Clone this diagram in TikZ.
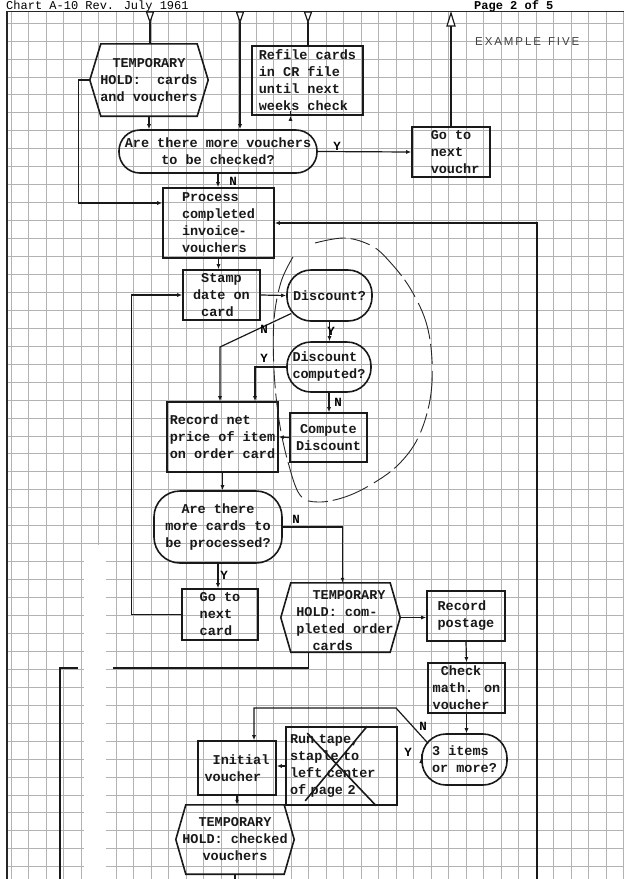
\documentclass[tikz,border=0pt]{standalone}
\usepackage{fontspec}
\setmainfont{Liberation Sans}
\newfontfamily\tw{Liberation Mono}
\usetikzlibrary{arrows.meta,calc}
\tikzset{
  gridln/.style={black!30, line width=0.6pt},
  txt/.style={font=\tw\bfseries\fontsize{13.5}{17}\selectfont, text=black!90},
  lbl/.style={font=\tw\bfseries\fontsize{12.5}{14}\selectfont, inner sep=0pt},
  box/.style={txt, draw=black!90, line width=1.6pt, rectangle, inner sep=0pt, align=left},
  term/.style={box, rounded corners=#1},
  hexa/.style={txt, draw=none, rectangle, inner sep=0pt, align=center},
  hexline/.style={draw=black!90, line width=1.6pt, line join=miter},
  conn/.style={draw=black!90, line width=1.2pt},
  arr/.style={conn, -{Latex[length=5pt,width=4pt]}},
  offpage/.style={draw=black!90, line width=1.2pt, fill=white, line join=miter},
  lasso/.style={draw=black!85, line width=0.9pt, dash pattern=on 38pt off 7pt on 20pt off 5pt}
}
\newcommand\hexshape[2]{%
  \draw[hexline] (#1.west) -- ($(#1.north west)+(#2,0)$) -- ($(#1.north east)+(-#2,0)$)
    -- (#1.east) -- ($(#1.south east)+(-#2,0)$) -- ($(#1.south west)+(#2,0)$) -- cycle;}
\begin{document}
\begin{tikzpicture}[x=1pt,y=-1pt]
\useasboundingbox (0,0) rectangle (624,879);
\fill[white] (0,0) rectangle (624,879);
% grid
\foreach \i in {0,...,35} {\draw[gridln] ({10.8+17.5*\i},11) -- ({10.8+17.5*\i},879);}
\foreach \k in {1,...,48} {\draw[gridln] (7,{5+17.95*\k}) -- (624,{5+17.95*\k});}
\fill[white] (84,545) rectangle (106,879);
% frame and header
\draw[black!85, line width=1.2pt] (7,11) -- (7,879);
\draw[black!85, line width=1pt] (7,11) -- (624,11);
\node[anchor=base west, inner sep=0pt, font=\tw\fontsize{12}{14}\selectfont] (hdr) at (6,9.5) {Chart A-10 Rev. July 1961};
\node[anchor=base west, inner sep=0pt, font=\tw\bfseries\fontsize{12}{14}\selectfont] (pg) at (474,9.5) {Page 2 of 5};
\node[anchor=west, inner sep=0pt, font=\fontsize{11.5}{13}\selectfont, text=black!75] (ex) at (475,42) {E\,X\,A\,M\,P\,L\,E\,\ \,F\,I\,V\,E};

% nodes
\node[hexa, minimum width=118pt, minimum height=72pt] (hold1) at (149,80) {TEMPORARY\\HOLD:\ \ cards\\and vouchers};
\hexshape{hold1}{11}
\node[box, minimum width=111pt, minimum height=69pt] (refile) at (307.5,80.5) {Refile cards\\in CR file\\until next\\weeks check};
\node[term=21pt, minimum width=198pt, minimum height=43pt, align=center] (q1) at (218,151.5) {Are there more vouchers\\to be checked?};
\node[box, minimum width=78pt, minimum height=50pt] (gonextv) at (451,152) {\phantom{x}Go to\\\phantom{x}next\\\phantom{x}vouchr};
\node[box, minimum width=111pt, minimum height=70pt] (process) at (218.5,223) {Process\\completed\\invoice-\\vouchers};
\node[box, minimum width=77pt, minimum height=50pt] (stamp) at (221.5,295) {\phantom{x}Stamp\\date on\\\phantom{x}card};
\node[term=24pt, minimum width=85pt, minimum height=51pt, align=center] (disc) at (329.5,295.5) {Discount?};
\node[term=24pt, minimum width=84pt, minimum height=50pt] (disccomp) at (329,367) {Discount\\computed?};
\node[box, minimum width=111pt, minimum height=70pt] (record) at (222.5,437) {Record net\\price of item\\on order card};
\node[box, minimum width=77pt, minimum height=49pt, align=center] (compute) at (328.5,437.5) {Compute\\Discount};
\node[term=26pt, minimum width=128pt, minimum height=72pt, align=center] (q2) at (218,527) {Are there\\more cards to\\be processed?};
\node[box, minimum width=76pt, minimum height=51pt] (gonextc) at (220,614.5) {Go to\\next\\card};
\node[hexa, minimum width=119pt, minimum height=69pt] (hold2) at (340.5,617.5) {};
\hexshape{hold2}{10}
\node[txt, align=left, inner sep=0pt] (hold2t) at (345,621) {\phantom{xx}TEMPORARY\\HOLD: com-\\pleted order\\\phantom{xx}cards};
\node[box, minimum width=78pt, minimum height=50pt] (postage) at (466,616) {Record\\postage};
\node[box, minimum width=77pt, minimum height=50pt] (checkm) at (466.5,688) {\phantom{x}Check\\math. on\\voucher};
\node[term=24pt, minimum width=85pt, minimum height=51pt] (q3) at (464.5,759.5) {3 items\\or more?};
\node[box, minimum width=111pt, minimum height=78pt, text width=103pt] (runtape) at (341.5,766) {Run tape,\\staple to\\left center\\of page 2};
\draw[black!90, line width=1.6pt] ($(runtape.north west)+(22,7)$) -- ($(runtape.south west)+(91,0)$);
\draw[black!90, line width=1.6pt] ($(runtape.north west)+(82,0)$) -- ($(runtape.south west)+(20,-5)$);
\node[box, minimum width=78pt, minimum height=54pt] (initial) at (237,768) {\phantom{x}Initial\\voucher};
\node[hexa, minimum width=118pt, minimum height=69pt] (hold3) at (235,839.5) {TEMPORARY\\HOLD: checked\\vouchers};
\hexshape{hold3}{10}

% off-page connectors
\coordinate (t1) at (150,22);
\coordinate (t2) at (240,22);
\coordinate (t3) at (308,22);
\coordinate (t4) at (451,26);
\draw[offpage] (146.5,12) -- (153.5,12) -- (t1) -- cycle;
\draw[offpage] (236.5,12) -- (243.5,12) -- (t2) -- cycle;
\draw[offpage] (304.5,12) -- (311.5,12) -- (t3) -- cycle;
\draw[offpage] (447,26) -- (455,26) -- (451,13) -- cycle;
\draw[conn] (t1) -- (t1 |- hold1.north);
\draw[arr] (t2) -- (t2 |- q1.north);
\draw[conn] (t3) -- (t3 |- refile.north);
\draw[conn] (gonextv.north) -- (t4);

% connectors
\draw[arr] (hold1.south) -- (hold1.south |- q1.north);
\draw[arr] ($(refile.south)+(-17,0)$) -- ($(refile.south)+(-17,0)$ |- q1.north);
\draw[arr] (q1.east) -- (gonextv.west);
\node[lbl] (ly1) at (337,146) {Y};
\draw[arr] (q1.south) -- (q1.south |- process.north);
\node[lbl] (ln1) at (233,181) {N};
\draw[arr] (hold1.west) -- ++(-11,0) |- ($(process.west)+(0,-20)$);
\coordinate (rb) at (537,879);
\draw[arr] (rb) |- (process.east);
\draw[arr] (process.south) -- (process.south |- stamp.north);
\draw[arr] (stamp.east) -- (disc.west);
\draw[arr] (gonextc.west) -| ($(stamp.west)+(-51,0)$) -- (stamp.west);
\draw[arr] (disc.south) -- (disc.south |- disccomp.north);
\node[lbl] (ly2) at (331,331) {Y};
\coordinate (dn) at (220,347);
\draw[arr] ($(disc.west)+(5,18)$) -- (dn) -- (dn |- record.north);
\node[lbl] (ln2) at (264,329) {N};
\draw[arr] (disccomp.west) -| ($(record.north)+(32.5,0)$);
\node[lbl] (ly3) at (264,358) {Y};
\draw[arr] (disccomp.south) -- (disccomp.south |- compute.north);
\node[lbl] (ln3) at (338,402) {N};
\draw[arr] (compute.west) -- (record.east);
\draw[arr] (record.south) -- (record.south |- q2.north);
\draw[arr] (q2.east) -| ($(hold2.north)+(2,0)$);
\node[lbl] (ln4) at (296,519) {N};
\draw[arr] (q2.south) -- (q2.south |- gonextc.north);
\node[lbl] (ly4) at (224,575) {Y};
\draw[arr] (hold2.east) -- (hold2.east -| postage.west);
\draw[arr] (postage.south) -- (checkm.north);
\draw[arr] (checkm.south) -- (checkm.south |- q3.north);
\draw[arr] ($(q3.west)+(0,-1.5)$) -- ($(q3.west)+(0,-1.5)$ -| runtape.east);
\node[lbl] (ly5) at (408,752) {Y};
\draw[arr] (runtape.west) -- (runtape.west -| initial.east);
\coordinate (n1) at (396,708);
\draw[arr] ($(q3.west)+(7,-16)$) -- (n1) -| ($(initial.north)+(17,0)$);
\node[lbl] (ln5) at (423,726) {N};
\draw[arr] (initial.south) -- (initial.south |- hold3.north);
\coordinate (hb) at (235,879);
\draw[conn] (hold3.south) -- (hb);
\coordinate (g1) at (113,668);
\coordinate (g2) at (78,668);
\coordinate (lb) at (60,879);
\draw[conn] ($(hold2.south)+(-32,0)$) |- (g1);
\draw[conn] (g2) -| (lb);

% hand-drawn loop
\draw[lasso] plot[smooth, tension=0.6] coordinates {(293,257) (281,282) (274,320) (274,370) (279,420) (288,462) (300,495) (318,502) (345,497) (372,484) (398,465) (418,438) (430,400) (432,360) (426,322) (410,288) (390,262) (372,246) (345,238) (315,243)};
\end{tikzpicture}
\end{document}
